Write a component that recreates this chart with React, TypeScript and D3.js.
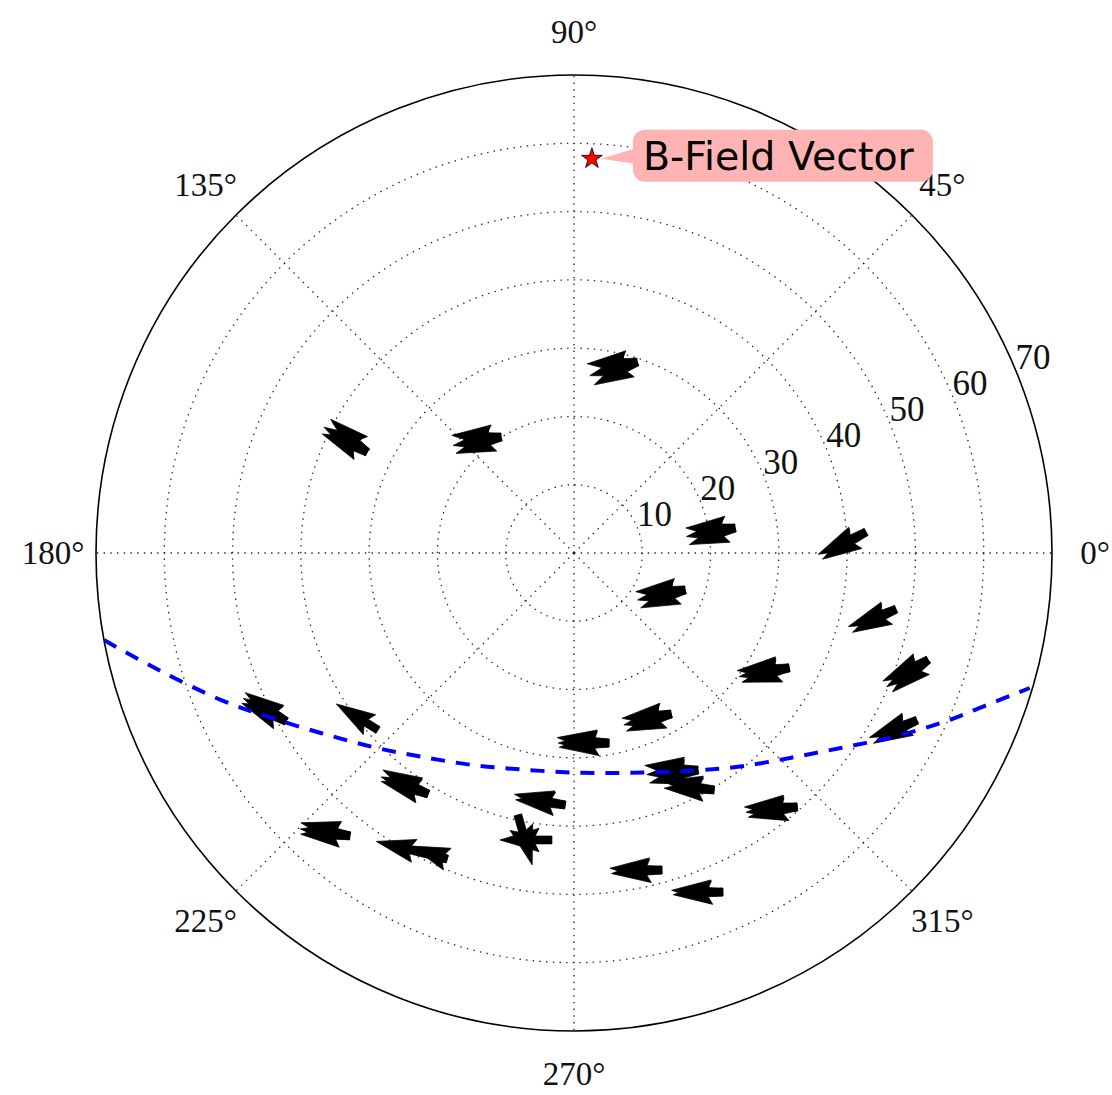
import { useEffect, useRef } from "react";
import * as d3 from "d3";

// radial axis
const R_MAX = 70;
const radialTicks = [10, 20, 30, 40, 50, 60, 70];
const angleTicks = [0, 45, 90, 135, 180, 225, 270, 315];

// quiver sites (tail position, polar: theta in degrees, r)
const siteTheta = [71.7, 154.0, 122.2, 8.83, 4.11, 341.6, 350.1, 343.2, 331.9, 334.0, 210.3, 222.1, 238.8,
  301.1, 280.4, 299.7, 300.6, 268.0, 231.6, 247.5, 265.6, 257.9, 311.3, 285.5, 293.7];
const siteR = [29.45, 33.7, 20.07, 23.86, 42.87, 17.13, 47.86, 54.16, 35.7, 55.87, 48.83, 38.67, 41.26,
  27.53, 28.29, 36.6, 40.31, 36.93, 52.86, 48.52, 42.15, 39.23, 49.5, 48.18, 54.23];
// direction of each vector at a site (degrees) and its length (r units)
const siteAngles = [
  [182, 196, 208], [138, 150, 158], [178, 190, 200], [180, 190, 200], [205, 212], [182, 192, 202],
  [200, 208], [205, 213, 222], [183, 190, 197], [200, 208], [145, 152, 158], [148], [152, 160, 165],
  [185, 193, 201], [174, 180, 185], [175, 185, 195], [170, 178], [168, 174], [165, 172, 178],
  [166, 160], [180], [286], [180, 186, 192], [178, 184], [178, 183],
];
const siteLengths = [
  [7.3, 7.2, 7.1], [7.2, 7.3, 7.1], [7.2, 7.1, 7.0], [7.2, 7.2, 7.1], [7.7, 7.5], [7.2, 7.1, 7.0],
  [7.4, 7.2], [7.3, 7.2, 7.0], [7.6, 7.4, 7.2], [7.4, 7.2], [7.3, 7.1, 7.0], [7.2], [7.5, 7.3, 7.1],
  [7.2, 7.1, 7.0], [7.6, 7.4, 7.3], [7.8, 7.5, 7.3], [7.6, 7.3], [7.6, 7.3], [7.4, 7.3, 7.2],
  [10.7, 5.6], [7.6], [7.6], [7.7, 7.5, 7.3], [7.6, 7.4], [7.5, 7.3],
];

// dashed boundary curve (polar)
const curveTheta = [190.5, 195.9, 202.7, 208.3, 215.4, 223.8, 233.1, 244.5, 257.8, 271.8, 284.8, 297.2,
  307.1, 316.5, 324.0, 330.0, 335.5, 339.6, 343.5];
const curveR = [70.0, 63.0, 55.9, 50.7, 45.5, 41.0, 37.3, 34.4, 32.5, 32.2, 33.3, 35.9,
  39.3, 43.6, 48.5, 53.9, 59.6, 64.2, 69.6];

// annotated point
const starTheta = 87.4;
const starR = 57.8;
const annotationText = "B-Field Vector";

const W = 1112;
const H = 1095;
const CX = 574;
const CY = 553;
const RADIUS = 478;

export default function App() {
  const svgRef = useRef<SVGSVGElement>(null);

  useEffect(() => {
    if (!svgRef.current) return;
    const svg = d3.select(svgRef.current);
    svg.html("");

    const rScale = d3.scaleLinear().domain([0, R_MAX]).range([0, RADIUS]);
    const toXY = (thetaDeg: number, r: number): [number, number] => {
      const a = (thetaDeg * Math.PI) / 180;
      return [CX + rScale(r) * Math.cos(a), CY - rScale(r) * Math.sin(a)];
    };

    svg.append("rect").attr("width", W).attr("height", H).attr("fill", "white");

    svg.append("defs").append("clipPath").attr("id", "polarClip")
      .append("circle").attr("cx", CX).attr("cy", CY).attr("r", RADIUS);

    const grid = svg.append("g");
    const dotted = "1.4,5.3";

    // grid circles
    grid.selectAll("circle.ring")
      .data(radialTicks.filter(t => t < R_MAX))
      .join("circle")
      .attr("cx", CX).attr("cy", CY)
      .attr("r", d => rScale(d))
      .attr("fill", "none")
      .attr("stroke", "#222")
      .attr("stroke-width", 1.3)
      .attr("stroke-dasharray", dotted);

    // grid spokes
    grid.selectAll("line.spoke")
      .data(angleTicks)
      .join("line")
      .attr("x1", CX).attr("y1", CY)
      .attr("x2", d => toXY(d, R_MAX)[0])
      .attr("y2", d => toXY(d, R_MAX)[1])
      .attr("stroke", "#222")
      .attr("stroke-width", 1.3)
      .attr("stroke-dasharray", dotted);

    // outer frame
    svg.append("circle")
      .attr("cx", CX).attr("cy", CY).attr("r", rScale(R_MAX))
      .attr("fill", "none").attr("stroke", "black").attr("stroke-width", 1.6);

    // angle labels
    const labelR = RADIUS * 1.09;
    svg.selectAll("text.angle")
      .data(angleTicks)
      .join("text")
      .attr("x", d => CX + labelR * Math.cos((d * Math.PI) / 180))
      .attr("y", d => CY - labelR * Math.sin((d * Math.PI) / 180))
      .attr("text-anchor", "middle")
      .attr("dominant-baseline", "central")
      .attr("font-family", "Liberation Serif, serif")
      .attr("font-size", 33)
      .attr("fill", "#111")
      .text(d => `${d}°`);

    // radial labels
    svg.selectAll("text.rlabel")
      .data(radialTicks)
      .join("text")
      .attr("x", d => toXY(22.5, d)[0])
      .attr("y", d => toXY(22.5, d)[1] - 1)
      .attr("text-anchor", "start")
      .attr("font-family", "Liberation Serif, serif")
      .attr("font-size", 35)
      .attr("fill", "#111")
      .text(d => d);

    // quiver arrows
    const w = 7.8;
    const arrowPath = (x0: number, y0: number, angDeg: number, L: number) => {
      let sw = w;
      if (L < 5 * sw) sw = L / 5;
      const hl = 5 * sw, hal = 4.5 * sw, hw = 1.5 * sw;
      const pts: [number, number][] = [
        [0, -sw / 2], [L - hal, -sw / 2], [L - hl, -hw], [L, 0],
        [L - hl, hw], [L - hal, sw / 2], [0, sw / 2],
      ];
      const a = (angDeg * Math.PI) / 180;
      const ux = Math.cos(a), uy = -Math.sin(a);
      const nx = Math.sin(a), ny = Math.cos(a);
      return "M" + pts.map(([p, q]) => `${x0 + p * ux + q * nx},${y0 + p * uy + q * ny}`).join("L") + "Z";
    };

    const vectors = siteTheta.flatMap((t, i) =>
      siteAngles[i].map((ang, j) => ({ t, r: siteR[i], ang, len: siteLengths[i][j] }))
    );

    svg.append("g")
      .selectAll("path")
      .data(vectors)
      .join("path")
      .attr("d", d => {
        const [x, y] = toXY(d.t, d.r);
        return arrowPath(x, y, d.ang, rScale(d.len));
      })
      .attr("fill", "black")
      .attr("stroke", "black")
      .attr("stroke-width", 0.8)
      .attr("stroke-linejoin", "miter");

    // dashed curve
    const curvePts = curveTheta.map((t, i) => toXY(t, curveR[i]));
    svg.append("path")
      .attr("clip-path", "url(#polarClip)")
      .attr("d", d3.line().curve(d3.curveCatmullRom)(curvePts))
      .attr("fill", "none")
      .attr("stroke", "#0000ff")
      .attr("stroke-width", 4)
      .attr("stroke-dasharray", "14,11");

    // annotation
    const [sx, sy] = toXY(starTheta, starR);
    const boxX = sx + 41, boxY = sy - 29, boxW = 300, boxH = 52;
    const ann = svg.append("g");
    ann.append("path")
      .attr("d", `M${boxX + 15},${sy - 14}L${sx + 9},${sy}L${boxX + 15},${sy + 7}Z`)
      .attr("fill", "#ffb3b3");
    ann.append("rect")
      .attr("x", boxX).attr("y", boxY)
      .attr("width", boxW).attr("height", boxH)
      .attr("rx", 12)
      .attr("fill", "#ffb3b3");
    ann.append("text")
      .attr("x", boxX + 10)
      .attr("y", sy + 11)
      .attr("font-family", "DejaVu Sans, sans-serif")
      .attr("font-size", 39.5)
      .attr("fill", "black")
      .text(annotationText);

    svg.append("path")
      .attr("d", d3.symbol(d3.symbolStar, 136)())
      .attr("transform", `translate(${sx},${sy})`)
      .attr("fill", "red")
      .attr("stroke", "black")
      .attr("stroke-width", 0.8);
  }, []);

  return (
    <div style={{ position: "absolute", left: 0, top: 0 }}>
      <svg ref={svgRef} width={W} height={H} style={{ display: "block" }}></svg>
    </div>
  );
}
